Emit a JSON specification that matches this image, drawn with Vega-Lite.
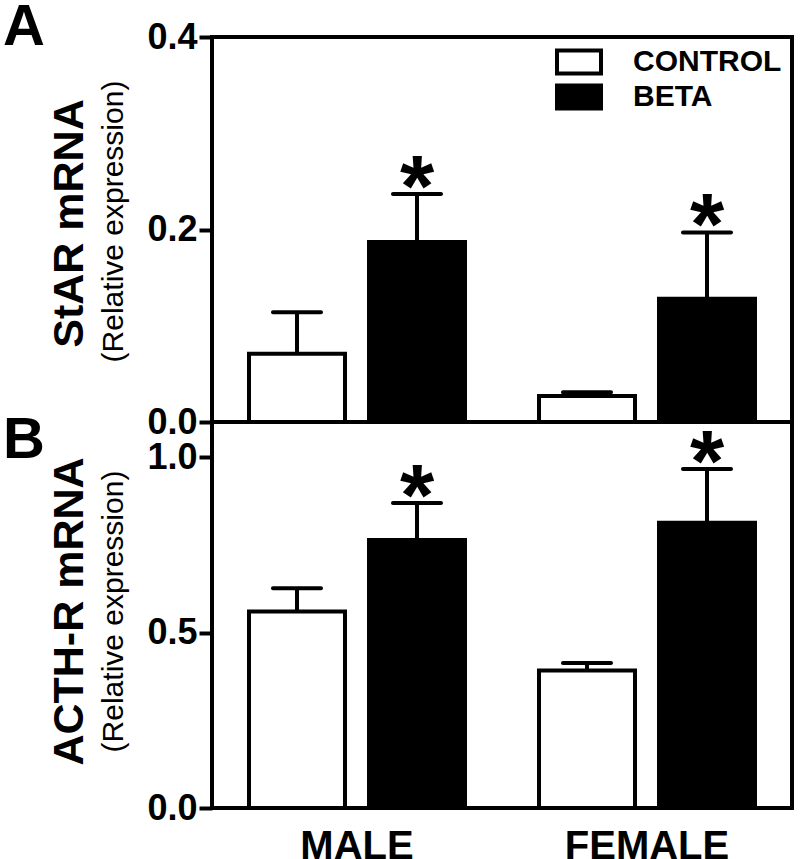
{
  "$schema": "https://vega.github.io/schema/vega-lite/v6.json",
  "background": "white",
  "padding": {"left": 1, "top": -3, "right": 0, "bottom": 0},
  "config": {
    "font": "Liberation Sans",
    "view": {"stroke": "black", "strokeWidth": 4},
    "axis": {"grid": false, "labelColor": "black", "titleColor": "black", "tickColor": "black", "labelFont": "Liberation Sans", "titleFont": "Liberation Sans"},
    "title": {"font": "Liberation Sans", "fontSize": 58, "fontWeight": "bold", "color": "black", "anchor": "start", "frame": "group", "baseline": "alphabetic", "offset": 0}
  },
  "datasets": {
    "star": [
      {"sex": "MALE", "group": "CONTROL", "mean": 0.071, "upper": 0.114, "sig": ""},
      {"sex": "MALE", "group": "BETA", "mean": 0.187, "upper": 0.237, "sig": "*"},
      {"sex": "FEMALE", "group": "CONTROL", "mean": 0.027, "upper": 0.031, "sig": ""},
      {"sex": "FEMALE", "group": "BETA", "mean": 0.128, "upper": 0.197, "sig": "*"}
    ],
    "acth": [
      {"sex": "MALE", "group": "CONTROL", "mean": 0.56, "upper": 0.626, "sig": ""},
      {"sex": "MALE", "group": "BETA", "mean": 0.764, "upper": 0.869, "sig": "*"},
      {"sex": "FEMALE", "group": "CONTROL", "mean": 0.392, "upper": 0.413, "sig": ""},
      {"sex": "FEMALE", "group": "BETA", "mean": 0.813, "upper": 0.966, "sig": "*"}
    ]
  },
  "spacing": 0,
  "bounds": "flush",
  "resolve": {"scale": {"fill": "independent"}, "legend": {"fill": "independent"}},
  "vconcat": [
    {
      "width": 580,
      "height": 385,
      "title": {"text": "A", "dx": -209, "dy": 42},
      "data": {"name": "star"},
      "encoding": {
        "x": {"field": "sex", "type": "nominal", "sort": ["MALE", "FEMALE"], "scale": {"paddingInner": 0, "paddingOuter": 0}, "axis": null},
        "xOffset": {"field": "group", "type": "nominal", "sort": ["CONTROL", "BETA"], "scale": {"paddingInner": 0.2, "paddingOuter": 0.3083}}
      },
      "resolve": {"scale": {"y": "independent"}},
      "layer": [
        {
          "mark": {"type": "bar", "stroke": "black", "strokeWidth": 4},
          "encoding": {
            "y": {"field": "mean", "type": "quantitative", "scale": {"domain": [0, 0.4], "nice": false},
              "axis": {"values": [0, 0.2, 0.4], "format": ".1f", "labelFontSize": 36, "labelFontWeight": "bold", "labelFlush": false, "labelOverlap": false, "tickSize": 13, "tickWidth": 4, "labelPadding": 2, "domain": false,
                "title": "(Relative expression)", "titleFontSize": 30, "titleFontWeight": "normal", "titlePadding": 18, "titleY": 184}},
            "fill": {"field": "group", "type": "nominal", "scale": {"domain": ["CONTROL", "BETA"], "range": ["white", "black"]},
              "legend": {"title": null, "orient": "top-right", "offset": 10, "padding": 0, "labelFontSize": 30, "labelFontWeight": "bold", "labelFont": "Liberation Sans", "labelColor": "black", "symbolType": "M-2,-1.04H2V1.04H-2Z", "symbolSize": 484, "symbolStrokeColor": "black", "symbolStrokeWidth": 4, "labelOffset": 39, "rowPadding": -11}}
          }
        },
        {
          "mark": {"type": "rule", "strokeWidth": 4, "color": "black"},
          "encoding": {
            "y": {"field": "mean", "type": "quantitative", "scale": {"domain": [0, 0.4], "nice": false},
              "axis": {"orient": "left", "title": "StAR mRNA", "labels": false, "ticks": false, "domain": false, "titleFontSize": 43, "titleFontWeight": "bold", "titlePadding": 121, "minExtent": 0, "maxExtent": 0, "titleY": 186}},
            "y2": {"field": "upper"}
          }
        },
        {
          "mark": {"type": "tick", "thickness": 4, "size": 52, "color": "black", "opacity": 1, "cornerRadius": 2},
          "encoding": {
            "y": {"field": "upper", "type": "quantitative", "scale": {"domain": [0, 0.4], "nice": false}, "axis": null}
          }
        },
        {
          "transform": [{"filter": "datum.sig == '*'"}],
          "mark": {"type": "text", "fontSize": 88, "fontWeight": "bold", "font": "Liberation Sans", "color": "black", "baseline": "alphabetic", "dy": 22},
          "encoding": {
            "y": {"field": "upper", "type": "quantitative", "scale": {"domain": [0, 0.4], "nice": false}, "axis": null},
            "text": {"field": "sig"}
          }
        }
      ]
    },
    {
      "width": 580,
      "height": 386,
      "title": {"text": "B", "dx": -209, "dy": 53},
      "data": {"name": "acth"},
      "encoding": {
        "x": {"field": "sex", "type": "nominal", "sort": ["MALE", "FEMALE"], "scale": {"paddingInner": 0, "paddingOuter": 0},
          "axis": {"title": null, "labelAngle": 0, "labelFontSize": 40, "labelFontWeight": "bold", "ticks": false, "domain": false, "labelPadding": 18}},
        "xOffset": {"field": "group", "type": "nominal", "sort": ["CONTROL", "BETA"], "scale": {"paddingInner": 0.2, "paddingOuter": 0.3083}}
      },
      "resolve": {"scale": {"y": "independent"}},
      "layer": [
        {
          "mark": {"type": "bar", "stroke": "black", "strokeWidth": 4},
          "encoding": {
            "y": {"field": "mean", "type": "quantitative", "scale": {"domain": [0, 1.1], "nice": false},
              "axis": {"values": [0, 0.5, 1.0], "format": ".1f", "labelFontSize": 36, "labelFontWeight": "bold", "labelFlush": false, "labelOverlap": false, "tickSize": 13, "tickWidth": 4, "labelPadding": 2, "domain": false,
                "title": "(Relative expression)", "titleFontSize": 30, "titleFontWeight": "normal", "titlePadding": 18, "titleY": 189}},
            "fill": {"field": "group", "type": "nominal", "scale": {"domain": ["CONTROL", "BETA"], "range": ["white", "black"]}, "legend": null}
          }
        },
        {
          "mark": {"type": "rule", "strokeWidth": 4, "color": "black"},
          "encoding": {
            "y": {"field": "mean", "type": "quantitative", "scale": {"domain": [0, 1.1], "nice": false},
              "axis": {"orient": "left", "title": "ACTH-R mRNA", "labels": false, "ticks": false, "domain": false, "titleFontSize": 43, "titleFontWeight": "bold", "titlePadding": 121, "minExtent": 0, "maxExtent": 0, "titleY": 189}},
            "y2": {"field": "upper"}
          }
        },
        {
          "mark": {"type": "tick", "thickness": 4, "size": 52, "color": "black", "opacity": 1, "cornerRadius": 2},
          "encoding": {
            "y": {"field": "upper", "type": "quantitative", "scale": {"domain": [0, 1.1], "nice": false}, "axis": null}
          }
        },
        {
          "transform": [{"filter": "datum.sig == '*'"}],
          "mark": {"type": "text", "fontSize": 88, "fontWeight": "bold", "font": "Liberation Sans", "color": "black", "baseline": "alphabetic", "dy": 22},
          "encoding": {
            "y": {"field": "upper", "type": "quantitative", "scale": {"domain": [0, 1.1], "nice": false}, "axis": null},
            "text": {"field": "sig"}
          }
        }
      ]
    }
  ]
}
